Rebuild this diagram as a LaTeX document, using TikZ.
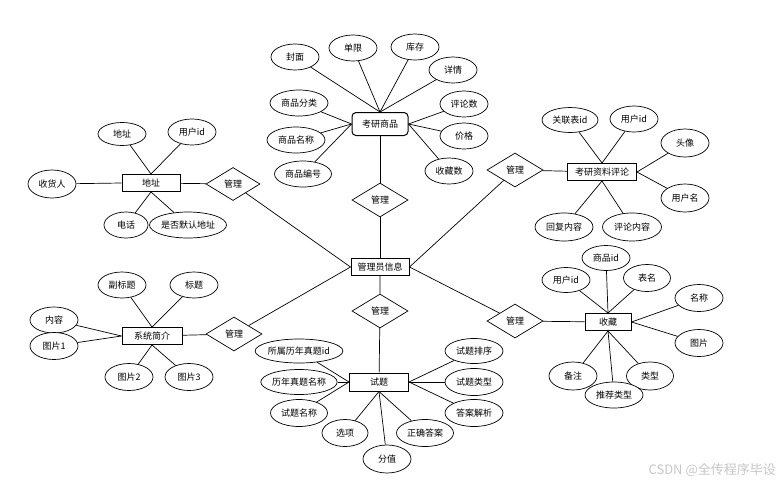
\documentclass[tikz,border=0pt]{standalone}
\usepackage{fontspec}
\setmainfont{Noto Sans CJK SC}
\usetikzlibrary{shapes.geometric}
\tikzset{
	attr/.style={ellipse, draw=black, line width=0.7pt, fill=white, inner sep=0pt, minimum width=48pt, minimum height=26pt},
	ent/.style={rectangle, draw=black, line width=1pt, fill=white, minimum width=58pt, minimum height=17pt, inner sep=1pt},
	rel/.style={diamond, aspect=1.6, draw=black, line width=0.7pt, fill=white, minimum width=56pt, minimum height=34pt, inner sep=0pt},
	link/.style={line width=0.7pt},
}

\begin{document}
\begin{tikzpicture}[x=1pt, y=-1pt, font=\fontsize{9}{11}\selectfont]
	\useasboundingbox (0,0) rectangle (784,485);
	% entities
	\node[ent] (admin) at (380,267) {管理员信息};
	\node[ent, rounded corners=4pt, minimum width=56pt, minimum height=23pt] (goods) at (380,124) {考研商品};
	\node[ent] (addr) at (151,183) {地址};
	\node[ent, minimum width=69pt] (cmt) at (602,172) {考研资料评论};
	\node[ent, minimum width=60pt] (intro) at (152,336) {系统简介};
	\node[ent, minimum width=59pt, minimum height=18pt] (exam) at (379,382) {试题};
	\node[ent, minimum width=46pt] (fav) at (608,322) {收藏};
	% relations
	\node[rel] (rGoods) at (380,200) {管理};
	\node[rel] (rExam) at (380,311) {管理};
	\node[rel, minimum width=54pt, minimum height=33pt] (rAddr) at (233,184) {管理};
	\node[rel] (rCmt) at (515,170) {管理};
	\node[rel] (rIntro) at (234,334) {管理};
	\node[rel] (rFav) at (515,321) {管理};
	\draw[link] (goods) -- (rGoods) -- (admin);
	\draw[link] (admin) -- (rExam) -- (exam);
	\draw[link] (addr) -- (rAddr) -- (admin.west);
	\draw[link] (intro) -- (rIntro) -- (admin.west);
	\draw[link] (cmt) -- (rCmt) -- (admin.east);
	\draw[link] (fav) -- (rFav) -- (admin.east);
	% goods attributes
	\node[attr] (gCover) at (295,57) {封面};
	\node[attr] (gLimit) at (353,48) {单限};
	\node[attr] (gStock) at (415,47) {库存};
	\node[attr] (gDetail) at (453,70) {详情};
	\node[attr] (gCmtNum) at (464,104) {评论数};
	\node[attr] (gPrice) at (464,136) {价格};
	\node[attr] (gFavNum) at (449,171) {收藏数};
	\node[attr, minimum width=58pt] (gCat) at (299,103) {商品分类};
	\node[attr, minimum width=58pt] (gName) at (296,140) {商品名称};
	\node[attr, minimum width=57pt] (gNo) at (303,174) {商品编号};
	\foreach \a/\b in {gCover/north, gLimit/north, gStock/north, gDetail/north, gCmtNum/east, gPrice/east, gFavNum/east, gCat/west, gName/west, gNo/west}
		\draw[link] (\a) -- (goods.\b);
	% address attributes
	\node[attr, minimum height=23pt] (aAddr) at (122,134) {地址};
	\node[attr] (aUser) at (192,132) {用户id};
	\node[attr, minimum height=28pt] (aName) at (52,184) {收货人};
	\node[attr, minimum width=44pt] (aTel) at (126,225) {电话};
	\node[attr, minimum width=77pt] (aDefault) at (188,225) {是否默认地址};
	\foreach \a/\b in {aAddr/north, aUser/north, aName/west, aTel/south, aDefault/south}
		\draw[link] (\a) -- (addr.\b);
	% comment attributes
	\node[attr, minimum width=56pt, minimum height=25pt] (cTable) at (570,120) {关联表id};
	\node[attr] (cUser) at (634,119) {用户id};
	\node[attr, minimum height=28pt] (cHead) at (685,143) {头像};
	\node[attr, minimum height=28pt] (cUname) at (685,198) {用户名};
	\node[attr, minimum width=58pt, minimum height=28pt] (cReply) at (564,227) {回复内容};
	\node[attr, minimum width=59pt, minimum height=28pt] (cText) at (632,227) {评论内容};
	\foreach \a/\b in {cTable/north, cUser/north, cHead/east, cUname/east, cReply/south, cText/south}
		\draw[link] (\a) -- (cmt.\b);
	% intro attributes
	\node[attr] (iSub) at (122,285) {副标题};
	\node[attr] (iTitle) at (194,285) {标题};
	\node[attr] (iText) at (54,320) {内容};
	\node[attr, minimum height=27pt] (iPic1) at (54,346) {图片1};
	\node[attr, minimum height=27pt] (iPic2) at (129,377) {图片2};
	\node[attr, minimum height=27pt] (iPic3) at (189,377) {图片3};
	\foreach \a/\b in {iSub/north, iTitle/north, iText/west, iPic1/west, iPic2/south, iPic3/south}
		\draw[link] (\a) -- (intro.\b);
	% exam attributes
	\node[attr, minimum width=85pt, minimum height=24pt] (eYear) at (299,351) {所属历年真题id};
	\node[attr, minimum width=75pt, minimum height=25pt] (eYname) at (299,382) {历年真题名称};
	\node[attr, minimum width=57pt, minimum height=27pt] (eName) at (299,413) {试题名称};
	\node[attr, minimum width=46pt, minimum height=27pt] (eOpt) at (345,433) {选项};
	\node[attr, minimum height=28pt] (eScore) at (387,459) {分值};
	\node[attr, minimum width=57pt, minimum height=27pt] (eAns) at (425,433) {正确答案};
	\node[attr, minimum width=58pt, minimum height=25pt] (eSort) at (474,351) {试题排序};
	\node[attr, minimum width=58pt, minimum height=27pt] (eType) at (474,382) {试题类型};
	\node[attr, minimum width=58pt, minimum height=27pt] (eExpl) at (474,413) {答案解析};
	\foreach \a/\b in {eYear/west, eYname/west, eName/west, eOpt/south, eScore/south, eAns/south, eSort/east, eType/east, eExpl/east}
		\draw[link] (\a) -- (exam.\b);
	% favourite attributes
	\node[attr, minimum height=25pt] (fUser) at (566,280) {用户id};
	\node[attr, minimum height=25pt] (fGoods) at (606,258) {商品id};
	\node[attr, minimum width=47pt, minimum height=27pt] (fTable) at (647,278) {表名};
	\node[attr, minimum height=27pt] (fName) at (699,298) {名称};
	\node[attr, minimum height=27pt] (fPic) at (699,343) {图片};
	\node[attr, minimum height=28pt] (fNote) at (573,376) {备注};
	\node[attr, minimum width=47pt, minimum height=28pt] (fType) at (650,376) {类型};
	\node[attr, minimum width=58pt] (fRec) at (614,395) {推荐类型};
	\foreach \a/\b in {fUser/north, fGoods/north, fTable/north, fName/east, fPic/east, fNote/south, fType/south, fRec/south}
		\draw[link] (\a) -- (fav.\b);
	% watermark
	\node[text=gray!45, font=\fontsize{13}{15}\selectfont, anchor=east, inner sep=0pt] (mark) at (776,470) {CSDN @全传程序毕设};
\end{tikzpicture}
\end{document}
